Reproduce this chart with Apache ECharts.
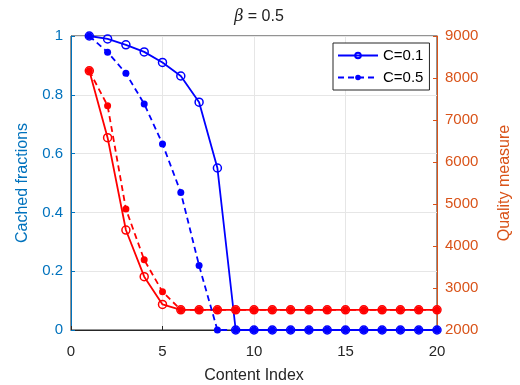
<!DOCTYPE html>
<html>
<head>
<meta charset="utf-8">
<script src="https://cdn.jsdelivr.net/npm/echarts@6/dist/echarts.min.js"></script>
<style>
  html, body { margin: 0; padding: 0; background: #fff; }
  #chart { width: 520px; height: 385px; }
</style>
</head>
<body>
<div id="chart"></div>
<script>
var contentIndex = [1, 2, 3, 4, 5, 6, 7, 8, 9, 10, 11, 12, 13, 14, 15, 16, 17, 18, 19, 20];
var cachedC01 = [1.0, 0.99, 0.97, 0.946, 0.91, 0.864, 0.775, 0.551, 0, 0, 0, 0, 0, 0, 0, 0, 0, 0, 0, 0];
var cachedC05 = [1.0, 0.945, 0.873, 0.769, 0.633, 0.468, 0.219, 0, 0, 0, 0, 0, 0, 0, 0, 0, 0, 0, 0, 0];
var qualityC01 = [8170, 6580, 4380, 3270, 2610, 2480, 2480, 2480, 2480, 2480, 2480, 2480, 2480, 2480, 2480, 2480, 2480, 2480, 2480, 2480];
var qualityC05 = [8170, 7340, 4880, 3670, 2910, 2480, 2480, 2480, 2480, 2480, 2480, 2480, 2480, 2480, 2480, 2480, 2480, 2480, 2480, 2480];

var BLUE = '#0000ff';
var RED = '#ff0000';
var LEFT_AXIS = '#0072BD';
var RIGHT_AXIS = '#D95319';
var FONT = 'Liberation Sans, Arial, sans-serif';

function pairs(xs, ys) {
    var out = [];
    for (var i = 0; i < xs.length; i++) out.push([xs[i], ys[i]]);
    return out;
}

var myChart = echarts.init(document.getElementById('chart'));

var option = {
    animation: false,
    textStyle: { fontFamily: FONT },
    title: {
        text: '{i|β} = 0.5',
        left: 254,
        textAlign: 'center',
        top: 4,
        textStyle: {
            fontSize: 16,
            fontWeight: 'normal',
            color: '#222',
            rich: { i: { fontStyle: 'italic', fontSize: 16, color: '#222', fontFamily: 'DejaVu Serif, serif' } }
        }
    },
    grid: {
        left: 71, right: 83, top: 36, bottom: 55,
        outerBoundsMode: 'none',
        show: true, borderColor: '#262626', borderWidth: 1
    },
    legend: {
        data: ['C=0.1', 'C=0.5'],
        orient: 'vertical',
        left: 333, top: 43,
        itemWidth: 40, itemHeight: 7, itemGap: 7,
        padding: [5, 6, 5, 4],
        borderColor: '#262626', borderWidth: 1, borderRadius: 0,
        backgroundColor: '#fff',
        textStyle: { fontSize: 15, color: '#000', fontFamily: FONT }
    },
    xAxis: {
        type: 'value', min: 0, max: 20, interval: 5,
        name: 'Content Index', nameLocation: 'middle', nameGap: 38,
        nameTextStyle: { fontSize: 16, color: '#262626' },
        axisLine: { lineStyle: { color: '#262626' } },
        axisTick: { inside: true, length: 4, lineStyle: { color: '#262626' } },
        axisLabel: { fontSize: 15, color: '#262626', margin: 14 },
        splitLine: { show: true, lineStyle: { color: '#e6e6e6' } }
    },
    yAxis: [
        {
            type: 'value', min: 0, max: 1, interval: 0.2,
            name: 'Cached fractions', nameLocation: 'middle', nameGap: 40,
            nameTextStyle: { fontSize: 16, color: LEFT_AXIS },
            axisLine: { show: true, lineStyle: { color: LEFT_AXIS } },
            axisTick: { show: true, inside: true, length: 4, lineStyle: { color: LEFT_AXIS } },
            axisLabel: { fontSize: 15, color: LEFT_AXIS, margin: 8 },
            splitLine: { show: true, lineStyle: { color: '#e6e6e6' } }
        },
        {
            type: 'value', min: 2000, max: 9000, interval: 1000,
            name: 'Quality measure', nameLocation: 'middle', nameGap: 60, nameRotate: 90,
            nameTextStyle: { fontSize: 16, color: RIGHT_AXIS },
            axisLine: { show: true, lineStyle: { color: RIGHT_AXIS } },
            axisTick: { show: true, inside: true, length: 4, lineStyle: { color: RIGHT_AXIS } },
            axisLabel: { fontSize: 15, color: RIGHT_AXIS, margin: 8, formatter: function (v) { return String(v); } },
            splitLine: { show: false }
        }
    ],
    series: [
        {
            name: 'Quality C=0.1', type: 'line', yAxisIndex: 1,
            data: pairs(contentIndex, qualityC01),
            symbol: 'circle', symbolSize: 8,
            lineStyle: { color: RED, width: 1.8 },
            itemStyle: { color: 'rgba(0,0,0,0)', borderColor: RED, borderWidth: 1.5 }
        },
        {
            name: 'Quality C=0.5', type: 'line', yAxisIndex: 1,
            data: pairs(contentIndex, qualityC05),
            symbol: 'circle', symbolSize: 7,
            lineStyle: { color: RED, width: 1.8, type: [6, 4] },
            itemStyle: { color: RED }
        },
        {
            name: 'C=0.1', type: 'line', yAxisIndex: 0,
            data: pairs(contentIndex, cachedC01),
            symbol: 'circle', symbolSize: 8,
            lineStyle: { color: BLUE, width: 1.8 },
            itemStyle: { color: 'rgba(0,0,0,0)', borderColor: BLUE, borderWidth: 1.5 }
        },
        {
            name: 'C=0.5', type: 'line', yAxisIndex: 0,
            data: pairs(contentIndex, cachedC05),
            symbol: 'circle', symbolSize: 7,
            lineStyle: { color: BLUE, width: 1.8, type: [6, 4] },
            itemStyle: { color: BLUE }
        }
    ]
};

myChart.setOption(option);
</script>
</body>
</html>
